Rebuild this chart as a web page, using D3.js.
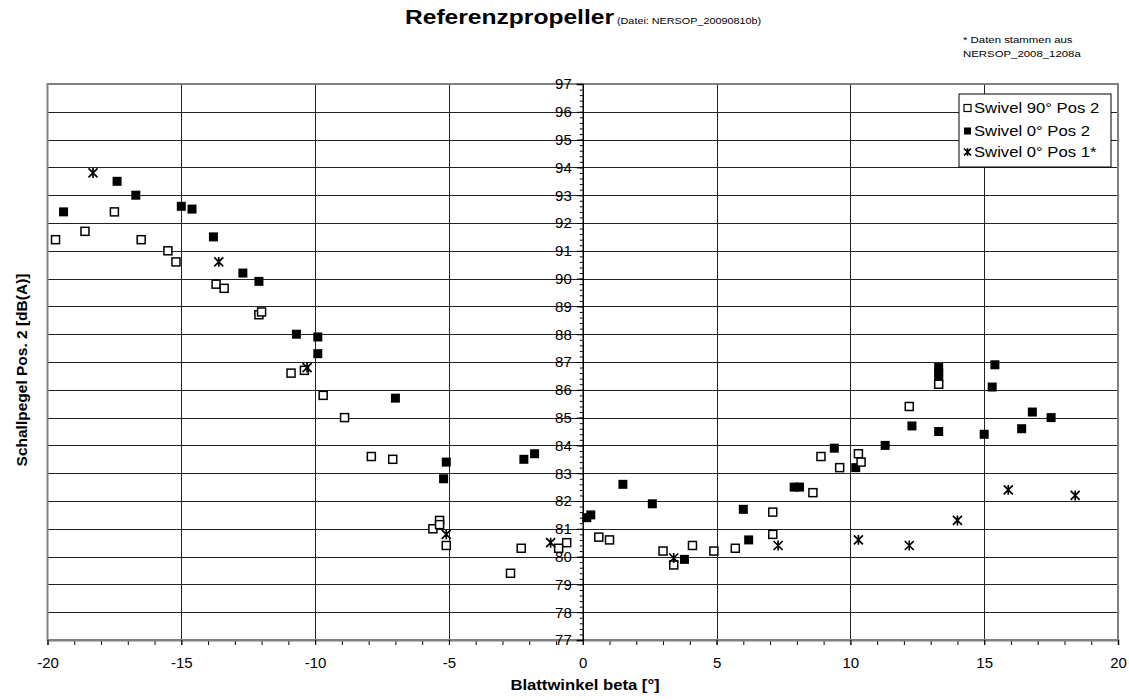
<!DOCTYPE html>
<html lang="de">
<head>
<meta charset="utf-8">
<title>Referenzpropeller</title>
<script src="https://cdn.jsdelivr.net/npm/d3@7/dist/d3.min.js"></script>
<style>
  body { margin: 0; background: #fff; }
  text { font-family: "Liberation Sans", Arial, sans-serif; }
</style>
</head>
<body>
<script>
// Swivel 90° Pos 2 (offene Quadrate)
var betaOpen = [-19.7, -18.6, -17.5, -16.5, -15.5, -15.2, -13.7, -13.4, -12.1, -12.0,
  -10.9, -10.4, -9.7, -8.9, -7.9, -7.1, -5.6, -5.35, -5.35, -5.1,
  -2.7, -2.3, -0.9, -0.6, 0.6, 1.0, 3.0, 3.4, 4.1, 4.9,
  5.7, 7.1, 7.1, 8.6, 8.9, 9.6, 10.3, 10.4, 12.2, 13.3];
var pegelOpen = [91.4, 91.7, 92.4, 91.4, 91.0, 90.6, 89.8, 89.65, 88.7, 88.8,
  86.6, 86.7, 85.8, 85.0, 83.6, 83.5, 81.0, 81.3, 81.15, 80.4,
  79.4, 80.3, 80.3, 80.5, 80.7, 80.6, 80.2, 79.7, 80.4, 80.2,
  80.3, 80.8, 81.6, 82.3, 83.6, 83.2, 83.7, 83.4, 85.4, 86.2];

// Swivel 0° Pos 2 (volle Quadrate)
var betaFull = [-19.4, -17.4, -16.7, -15.0, -14.6, -13.8, -12.7, -12.1, -10.7, -9.9,
  -9.9, -7.0, -5.1, -5.2, -2.2, -1.8, 0.15, 0.3, 1.5, 2.6,
  3.8, 6.0, 6.2, 7.9, 8.1, 9.4, 10.2, 11.3, 12.3, 13.3,
  13.3, 13.3, 13.3, 15.0, 15.3, 15.4, 16.4, 16.8, 17.5];
var pegelFull = [92.4, 93.5, 93.0, 92.6, 92.5, 91.5, 90.2, 89.9, 88.0, 87.9,
  87.3, 85.7, 83.4, 82.8, 83.5, 83.7, 81.4, 81.5, 82.6, 81.9,
  79.9, 81.7, 80.6, 82.5, 82.5, 83.9, 83.2, 84.0, 84.7, 84.5,
  86.8, 86.6, 86.45, 84.4, 86.1, 86.9, 84.6, 85.2, 85.0];

// Swivel 0° Pos 1* (Sterne)
var betaStar = [-18.3, -13.6, -10.3, -5.1, -1.2, 3.4, 7.3, 10.3, 12.2, 14.0, 15.9, 18.4];
var pegelStar = [93.8, 90.6, 86.8, 80.8, 80.5, 79.95, 80.4, 80.6, 80.4, 81.3, 82.4, 82.2];

var seriesNames = ["Swivel 90\u00b0 Pos 2", "Swivel 0\u00b0 Pos 2", "Swivel 0\u00b0 Pos 1*"];
var xMajorTicks = d3.range(-20, 21, 5);
var yMajorTicks = d3.range(77, 98, 1);

var W = 1129, H = 700;
var pLeft = 47.5, pRight = 1118, pTop = 84, pBottom = 640;

var svg = d3.select("body").append("svg")
  .attr("width", W).attr("height", H);

var x = d3.scaleLinear().domain([-20, 20]).range([pLeft, pRight]);
var y = d3.scaleLinear().domain([77, 97]).range([pBottom, pTop]);

function zip(a, b) { return a.map(function(v, i) { return [v, b[i]]; }); }
var openPts = zip(betaOpen, pegelOpen);
var fullPts = zip(betaFull, pegelFull);
var starPts = zip(betaStar, pegelStar);

// Gitter
svg.append("g").selectAll("line")
  .data(yMajorTicks.filter(function(d) { return d > 77 && d < 97; }))
  .enter().append("line")
  .attr("x1", pLeft).attr("x2", pRight)
  .attr("y1", function(d) { return Math.round(y(d)) + 0.5; })
  .attr("y2", function(d) { return Math.round(y(d)) + 0.5; })
  .attr("stroke", "#222").attr("stroke-width", 1);

svg.append("g").selectAll("line")
  .data(xMajorTicks.filter(function(d) { return d != 0 && d > -20 && d < 20; }))
  .enter().append("line")
  .attr("y1", pTop).attr("y2", pBottom)
  .attr("x1", function(d) { return Math.round(x(d)) + 0.5; })
  .attr("x2", function(d) { return Math.round(x(d)) + 0.5; })
  .attr("stroke", "#222").attr("stroke-width", 1);

// Rahmen
svg.append("rect")
  .attr("x", pLeft).attr("y", pTop)
  .attr("width", pRight - pLeft).attr("height", pBottom - pTop)
  .attr("fill", "none").attr("stroke", "#808080").attr("stroke-width", 2);

var fmt = function(d) { return String(d); };

// x-Achse unten
var xMinor = d3.axisBottom(x).tickValues(d3.range(-20, 21, 1)).tickSize(5).tickFormat("");
var xMajor = d3.axisBottom(x).tickValues(xMajorTicks).tickSize(5).tickPadding(12).tickFormat(fmt);
svg.append("g").attr("transform", "translate(0," + pBottom + ")").call(xMinor)
  .call(function(g) { g.select(".domain").remove(); });
var gx = svg.append("g").attr("transform", "translate(0," + pBottom + ")").call(xMajor);
gx.select(".domain").attr("stroke", "#808080").attr("stroke-width", 2);
gx.selectAll("text").attr("font-size", 15).attr("fill", "#000")
  .style("font-family", "'Liberation Sans', Arial, sans-serif");

// y-Achse bei beta = 0
var yMinor = d3.axisLeft(y).tickValues(d3.range(77, 97.01, 0.2)).tickSize(3).tickFormat("");
var yMajor = d3.axisLeft(y).tickValues(yMajorTicks).tickSize(6).tickPadding(5).tickFormat(fmt);
svg.append("g").attr("transform", "translate(" + x(0) + ",0)").call(yMinor)
  .call(function(g) { g.select(".domain").remove(); });
var gy = svg.append("g").attr("transform", "translate(" + x(0) + ",0)").call(yMajor);
gy.select(".domain").attr("stroke", "#000").attr("stroke-width", 1.5);
gy.selectAll("text").attr("font-size", 15).attr("fill", "#000")
  .style("font-family", "'Liberation Sans', Arial, sans-serif");

// Marker
function star(sel, s) {
  sel.append("path")
    .attr("d", "M" + (-s) + "," + (-s) + "L" + s + "," + s +
               "M" + (-s) + "," + s + "L" + s + "," + (-s) +
               "M0," + (-s * 1.1) + "L0," + (s * 1.1))
    .attr("stroke", "#000").attr("stroke-width", 1.7).attr("fill", "none");
}

svg.append("g").selectAll("rect")
  .data(fullPts).enter().append("rect")
  .attr("x", function(d) { return x(d[0]) - 4.5; })
  .attr("y", function(d) { return y(d[1]) - 4.5; })
  .attr("width", 9).attr("height", 9)
  .attr("fill", "#000");

svg.append("g").selectAll("rect")
  .data(openPts).enter().append("rect")
  .attr("x", function(d) { return x(d[0]) - 4; })
  .attr("y", function(d) { return y(d[1]) - 4; })
  .attr("width", 8).attr("height", 8)
  .attr("fill", "#fff").attr("stroke", "#000").attr("stroke-width", 1.5);

svg.append("g").selectAll("g")
  .data(starPts).enter().append("g")
  .attr("transform", function(d) { return "translate(" + x(d[0]) + "," + y(d[1]) + ")"; })
  .call(star, 4.5);

// Legende
var leg = svg.append("g").attr("transform", "translate(959,94)");
leg.append("rect").attr("width", 152).attr("height", 73)
  .attr("fill", "#fff").attr("stroke", "#000").attr("stroke-width", 1);
var rowsY = [14, 37, 58];
leg.append("rect").attr("x", 5).attr("y", rowsY[0] - 3.5).attr("width", 7).attr("height", 7)
  .attr("fill", "#fff").attr("stroke", "#000").attr("stroke-width", 1.2);
leg.append("rect").attr("x", 5).attr("y", rowsY[1] - 3.5).attr("width", 7).attr("height", 7)
  .attr("fill", "#000");
leg.append("g").attr("transform", "translate(8.5," + rowsY[2] + ")").call(star, 3.5);
leg.selectAll("g.item").data(seriesNames).enter().append("g")
  .attr("class", "item")
  .attr("transform", function(d, i) { return "translate(15," + rowsY[i] + ") scale(1.15,1)"; })
  .append("text")
  .attr("dy", "0.36em").attr("font-size", 14.5).text(function(d) { return d; });

// Titel (Text im Original leicht breit gezogen)
var title = svg.append("g").attr("transform", "translate(583,24) scale(1.2,1)")
  .append("text").attr("text-anchor", "middle");
title.append("tspan").attr("font-weight", "bold").attr("font-size", 20.5).text("Referenzpropeller");
title.append("tspan").attr("font-size", 9).text(" (Datei: NERSOP_20090810b)");

var note = svg.append("g").attr("transform", "translate(963,0) scale(1.2,1)");
note.append("text").attr("y", 43).attr("font-size", 9.5).text("* Daten stammen aus");
note.append("text").attr("y", 57).attr("font-size", 9.5).text("NERSOP_2008_1208a");

// Achsentitel
svg.append("g").attr("transform", "translate(585,690) scale(1.15,1)")
  .append("text").attr("text-anchor", "middle")
  .attr("font-weight", "bold").attr("font-size", 14.5).text("Blattwinkel beta [\u00b0]");
svg.append("text").attr("transform", "translate(27,370) rotate(-90)")
  .attr("text-anchor", "middle").attr("font-weight", "bold").attr("font-size", 15.5)
  .text("Schallpegel Pos. 2 [dB(A)]");
</script>
</body>
</html>
